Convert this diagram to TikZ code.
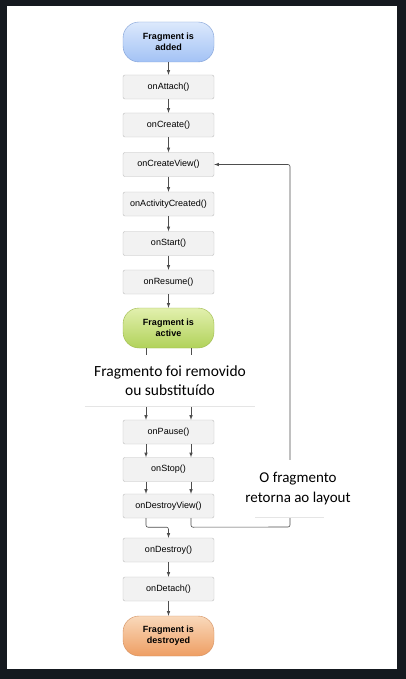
\documentclass[tikz,border=0pt]{standalone}
\usepackage{fontspec}
\setmainfont{Liberation Sans}
\newfontfamily\notefont{Carlito}
\usepackage{tikz}
\usetikzlibrary{arrows}

\definecolor{framebg}{HTML}{15191F}
\definecolor{boxfill}{HTML}{F2F2F2}
\definecolor{boxline}{HTML}{BEBEBE}
\definecolor{wirecol}{HTML}{4E4E4E}
\definecolor{addedtop}{HTML}{DCE9FC}
\definecolor{addedbot}{HTML}{A3C2F5}
\definecolor{addedline}{HTML}{7E9ED6}
\definecolor{activetop}{HTML}{E2F0AE}
\definecolor{activebot}{HTML}{B1D25A}
\definecolor{activeline}{HTML}{9CB84A}
\definecolor{deadtop}{HTML}{F9D9BB}
\definecolor{deadbot}{HTML}{EE9E63}
\definecolor{deadline}{HTML}{D39060}

\tikzset{
  callbox/.style={draw=boxline, fill=boxfill, rounded corners=2pt, minimum width=91pt,
    minimum height=24pt, inner sep=0pt, font=\fontsize{9}{10}\selectfont},
  statebox/.style={rounded corners=16pt, minimum width=91pt, minimum height=40pt,
    inner sep=0pt, align=center, font=\fontsize{9}{11}\selectfont\bfseries},
  wire/.style={draw=wirecol, line width=0.6pt, -latex},
  note/.style={fill=white, align=center, inner sep=0pt}
}

\begin{document}
\begin{tikzpicture}[x=1pt,y=-1pt]
    \fill[framebg] (0,0) rectangle (406,679);
    \fill[white] (7,6) rectangle (397,669);
    % states and callbacks
    \node[statebox, draw=addedline, top color=addedtop, bottom color=addedbot] (added) at (168.5,42) {Fragment is\\added};
    \node[callbox] (attach) at (168.5,87) {onAttach()};
    \node[callbox] (create) at (168.5,125) {onCreate()};
    \node[callbox] (createview) at (168.5,164.5) {onCreateView()};
    \node[callbox] (actcreated) at (168.5,204) {onActivityCreated()};
    \node[callbox] (start) at (168.5,243.5) {onStart()};
    \node[callbox] (resume) at (168.5,282) {onResume()};
    \node[statebox, draw=activeline, top color=activetop, bottom color=activebot] (active) at (168.5,328) {Fragment is\\active};
    \node[callbox] (pause) at (168.5,432) {onPause()};
    \node[callbox] (stop) at (168.5,469.5) {onStop()};
    \node[callbox] (destroyview) at (168.5,506) {onDestroyView()};
    \node[callbox] (destroy) at (168.5,550) {onDestroy()};
    \node[callbox] (detach) at (168.5,589) {onDetach()};
    \node[statebox, draw=deadline, top color=deadtop, bottom color=deadbot] (dead) at (168.5,636) {Fragment is\\destroyed};
    % arrows
    \draw[wire] (added) -- (attach);
    \draw[wire] (attach) -- (create);
    \draw[wire] (create) -- (createview);
    \draw[wire] (createview) -- (actcreated);
    \draw[wire] (actcreated) -- (start);
    \draw[wire] (start) -- (resume);
    \draw[wire] (resume) -- (active);
    \draw[wire] ([xshift=-22.5pt]active.south) -- ([xshift=-22.5pt]pause.north);
    \draw[wire] ([xshift=22.5pt]active.south) -- ([xshift=22.5pt]pause.north);
    \draw[wire] ([xshift=-22.5pt]pause.south) -- ([xshift=-22.5pt]stop.north);
    \draw[wire] ([xshift=22.5pt]pause.south) -- ([xshift=22.5pt]stop.north);
    \draw[wire] ([xshift=-22.5pt]stop.south) -- ([xshift=-22.5pt]destroyview.north);
    \draw[wire] ([xshift=22.5pt]stop.south) -- ([xshift=22.5pt]destroyview.north);
    \draw[wire, rounded corners=2pt] ([xshift=-22.5pt]destroyview.south) -- ++(0,9) -| (destroy.north);
    \coordinate (back) at (290,527);
    \draw[wire, rounded corners=2pt] ([xshift=22.5pt]destroyview.south) -- ++(0,9) -- (back) |- (createview.east);
    \draw[wire] (destroy) -- (detach);
    \draw[wire] (detach) -- (dead);
    % notes over the lines
    \node[note, minimum width=170pt, minimum height=51pt, font=\notefont\fontsize{15.5}{18.5}\selectfont] (removed) at (170,380.5) {Fragmento foi removido\\ou substituído};
    \draw[black!10] (removed.south west) -- (removed.south east);
    \node[note, minimum width=118pt, minimum height=57pt, font=\notefont\fontsize{15}{20}\selectfont] (returns) at (298,488.5) {O fragmento\\retorna ao layout};
    \draw[black!10] (255,517) -- (324,517);
\end{tikzpicture}
\end{document}
